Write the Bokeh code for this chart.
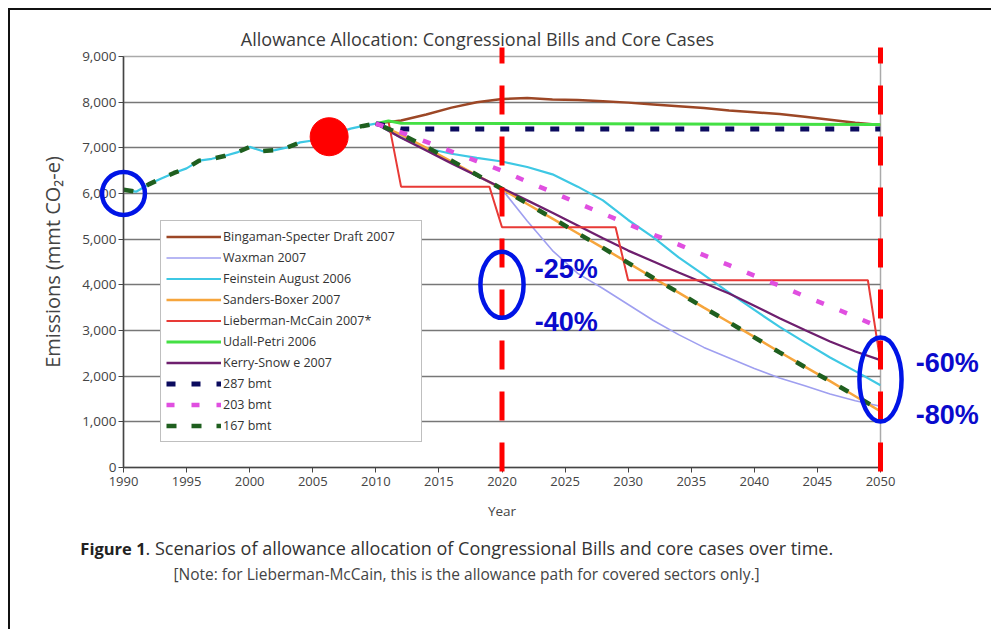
from bokeh.plotting import figure
from bokeh.models import Legend, LegendItem, FixedTicker, NumeralTickFormatter, Range1d
from bokeh.core.properties import value
from bokeh.embed import file_html
from bokeh.resources import INLINE

# ---------------- data ----------------
hist_years = [1990, 1991, 1992, 1993, 1994, 1995, 1996, 1997, 1998, 1999, 2000,
              2001, 2002, 2003, 2004, 2005, 2006, 2007, 2008, 2009, 2010]
hist_values = [6080, 6040, 6200, 6330, 6450, 6550, 6720, 6760, 6820, 6900, 7020,
               6930, 6950, 7010, 7120, 7160, 7230, 7330, 7420, 7480, 7530]

proj_years = [2010, 2012, 2014, 2016, 2018, 2020, 2022, 2024, 2026, 2028, 2030,
              2032, 2034, 2036, 2038, 2040, 2042, 2044, 2046, 2048, 2050]
bingaman = [7530, 7600, 7730, 7880, 8000, 8070, 8090, 8060, 8045, 8020, 7990,
            7950, 7910, 7870, 7820, 7780, 7740, 7680, 7615, 7550, 7500]
waxman = [7530, 7250, 6960, 6670, 6380, 6090, 5400, 4750, 4250, 3920, 3570,
          3220, 2910, 2630, 2400, 2170, 1960, 1790, 1610, 1460, 1340]
feinstein = [7530, 7220, 6990, 6870, 6780, 6700, 6580, 6420, 6150, 5850, 5420,
             5040, 4600, 4220, 3830, 3450, 3080, 2740, 2410, 2110, 1800]
sanders = [7530, 7290, 7000, 6700, 6400, 6100, 5770, 5450, 5130, 4810, 4480,
           4150, 3830, 3500, 3180, 2860, 2530, 2210, 1890, 1560, 1230]
kerry = [7530, 7220, 6940, 6660, 6390, 6120, 5850, 5580, 5300, 5020, 4750,
         4510, 4270, 4040, 3810, 3540, 3270, 3010, 2760, 2540, 2350]
bmt203 = [7530, 7340, 7130, 6920, 6710, 6500, 6260, 6030, 5790, 5560, 5330,
          5100, 4880, 4650, 4430, 4200, 3980, 3750, 3530, 3300, 3060]
bmt167 = [7530, 7300, 7020, 6720, 6410, 6100, 5780, 5460, 5130, 4810, 4480,
          4150, 3830, 3500, 3180, 2850, 2520, 2200, 1890, 1570, 1250]

lieberman_years = [2010, 2011, 2012, 2019, 2020, 2029, 2030, 2049, 2050]
lieberman = [7530, 7580, 6150, 6150, 5260, 5260, 4100, 4100, 2300]
udall_years = [2010, 2011, 2012, 2050]
udall = [7530, 7590, 7540, 7510]
bmt287_years = [2010, 2012, 2050]
bmt287 = [7530, 7410, 7410]

x_ticks = [1990, 1995, 2000, 2005, 2010, 2015, 2020, 2025, 2030, 2035, 2040, 2045, 2050]
y_ticks = [0, 1000, 2000, 3000, 4000, 5000, 6000, 7000, 8000, 9000]

# annotations (data coordinates)
marker_years = [2020, 2050]
marker_top = [9197, 9197]
marker_bottom = [-175, -175]
ellipse_x = [1990, 2020, 2050]
ellipse_y = [6000, 4000, 1925]
ellipse_w = [3.4, 3.42, 3.34]
ellipse_h = [940, 1444, 1838]
dot_x = [2006.3]
dot_y = [7243]
pct_labels = ["-25%", "-40%", "-60%", "-80%"]
pct_x = [2022.6, 2022.6, 2052.8, 2052.8]
pct_y = [4354, 3195, 2298, 1160]

title_text = "Allowance Allocation: Congressional Bills and Core Cases"
caption_bold = "Figure 1"
caption_text = ". Scenarios of allowance allocation of Congressional Bills and core cases over time."
note_text = "[Note: for Lieberman-McCain, this is the allowance path for covered sectors only.]"

FONT = "Open Sans"

p = figure(width=983, height=621, output_backend="svg", toolbar_location=None,
           x_range=Range1d(1990, 2050), y_range=Range1d(0, 9000),
           min_border_left=113, min_border_right=113, min_border_top=46, min_border_bottom=164)
p.styles = {"margin-left": "8px", "margin-top": "8px",
            "border-left": "2px solid #111111", "border-top": "2px solid #111111"}
p.background_fill_color = "white"
p.border_fill_color = "white"
p.outline_line_color = "#aaaaaa"
p.outline_line_width = 1.5

p.xgrid.visible = False
p.ygrid.grid_line_color = "#777777"
p.ygrid.grid_line_width = 1.5

p.xaxis.ticker = FixedTicker(ticks=x_ticks)
p.yaxis.ticker = FixedTicker(ticks=y_ticks)
p.yaxis.formatter = NumeralTickFormatter(format="0,0")
for ax in (p.xaxis[0], p.yaxis[0]):
    ax.axis_line_color = "#444444"
    ax.axis_line_width = 1.5
    ax.major_tick_line_color = "#444444"
    ax.major_tick_out = 5
    ax.major_tick_in = 0
    ax.minor_tick_line_color = None
    ax.major_label_text_font = FONT
    ax.major_label_text_color = "#444444"
    ax.axis_label_text_font = FONT
    ax.axis_label_text_font_style = "normal"
    ax.axis_label_text_color = "#444444"
p.xaxis.major_label_text_font_size = "13px"
p.yaxis.major_label_text_font_size = "13.5px"
p.xaxis.axis_label = "Year"
p.xaxis.axis_label_text_font_size = "13.5px"
p.xaxis.axis_label_standoff = 13
p.xaxis.major_label_standoff = 4
p.yaxis.axis_label = "Emissions (mmt CO\u2082-e)"
p.yaxis.axis_label_text_font_size = "20px"
p.yaxis.axis_label_standoff = 13
p.yaxis.major_label_standoff = 2

# ---------------- series ----------------
r_wax = p.line(proj_years, waxman, line_color="#9f9ff0", line_width=1.6)
r_fein = p.line(hist_years + proj_years[1:], hist_values + feinstein[1:], line_color="#3ec8e4", line_width=2.2)
r_sand = p.line(proj_years, sanders, line_color="#f6a53c", line_width=2.5)
r_kerry = p.line(proj_years, kerry, line_color="#6e1f6e", line_width=2.3)
r_lieb = p.line(lieberman_years, lieberman, line_color="#e83a36", line_width=2)
r_bing = p.line(proj_years, bingaman, line_color="#9c4726", line_width=2.5)
r_udall = p.line(udall_years, udall, line_color="#44e044", line_width=3)
r_287 = p.line(bmt287_years, bmt287, line_color="#0b0b5e", line_width=5, line_dash="9 16")
r_203 = p.line(proj_years, bmt203, line_color="#e04fe0", line_width=4.5, line_dash="8 17")
r_167 = p.line(hist_years + proj_years[1:], hist_values + bmt167[1:], line_color="#1f5f1f", line_width=4.5, line_dash="10 15")

legend = Legend(items=[
    LegendItem(label="Bingaman-Specter Draft 2007", renderers=[r_bing]),
    LegendItem(label="Waxman 2007", renderers=[r_wax]),
    LegendItem(label="Feinstein August 2006", renderers=[r_fein]),
    LegendItem(label="Sanders-Boxer 2007", renderers=[r_sand]),
    LegendItem(label="Lieberman-McCain 2007*", renderers=[r_lieb]),
    LegendItem(label="Udall-Petri 2006", renderers=[r_udall]),
    LegendItem(label="Kerry-Snow e 2007", renderers=[r_kerry]),
    LegendItem(label="287 bmt", renderers=[r_287]),
    LegendItem(label="203 bmt", renderers=[r_203]),
    LegendItem(label="167 bmt", renderers=[r_167]),
], location=(37, 25))
legend.label_text_font = FONT
legend.label_text_font_size = "12.5px"
legend.label_text_color = "#333333"
legend.glyph_width = 55
legend.glyph_height = 21
legend.label_height = 21
legend.label_width = 193
legend.label_standoff = 2
legend.spacing = 0
legend.padding = 5
legend.margin = 0
legend.border_line_color = "#808080"
legend.border_line_width = 1.5
legend.background_fill_alpha = 1
p.add_layout(legend)

# ---------------- annotations ----------------
p.segment(x0=marker_years, y0=marker_top, x1=marker_years, y1=marker_bottom,
          line_color="#ff0000", line_width=5, line_dash="29 22", line_dash_offset=13, level="overlay")
p.ellipse(x=ellipse_x, y=ellipse_y, width=ellipse_w, height=ellipse_h, fill_alpha=0,
          line_color="#0014e6", line_width=4.5, level="overlay")
p.scatter(x=dot_x, y=dot_y, size=38, marker="circle", fill_color="#ff0000", line_color="#ff0000", level="overlay")

p.text(x=pct_x, y=pct_y, text=pct_labels, text_font=value("Liberation Sans"), text_font_style="bold",
       text_font_size="27px", text_color="#0a0acc", text_baseline="middle", text_align="left", level="overlay")

p.text(x=[1999.3], y=[9394], text=[title_text], text_font=value(FONT), text_font_size="18px",
       text_color="#3a3a3a", text_baseline="middle", text_align="left", level="overlay")
p.text(x=[1991.75], y=[-1772], text=[caption_bold], text_font=value(FONT), text_font_style="bold",
       text_font_size="16.5px", text_color="#222222", text_baseline="middle", text_align="right", level="overlay")
p.text(x=[1991.75], y=[-1772], text=[caption_text], text_font=value(FONT), text_font_size="18px",
       text_color="#333333", text_baseline="middle", text_align="left", level="overlay")
p.text(x=[2017.19], y=[-2341], text=[note_text], text_font=value(FONT), text_font_size="15.5px",
       text_color="#444444", text_baseline="middle", text_align="center", level="overlay")

open("out.html", "w").write(file_html(p, INLINE))
